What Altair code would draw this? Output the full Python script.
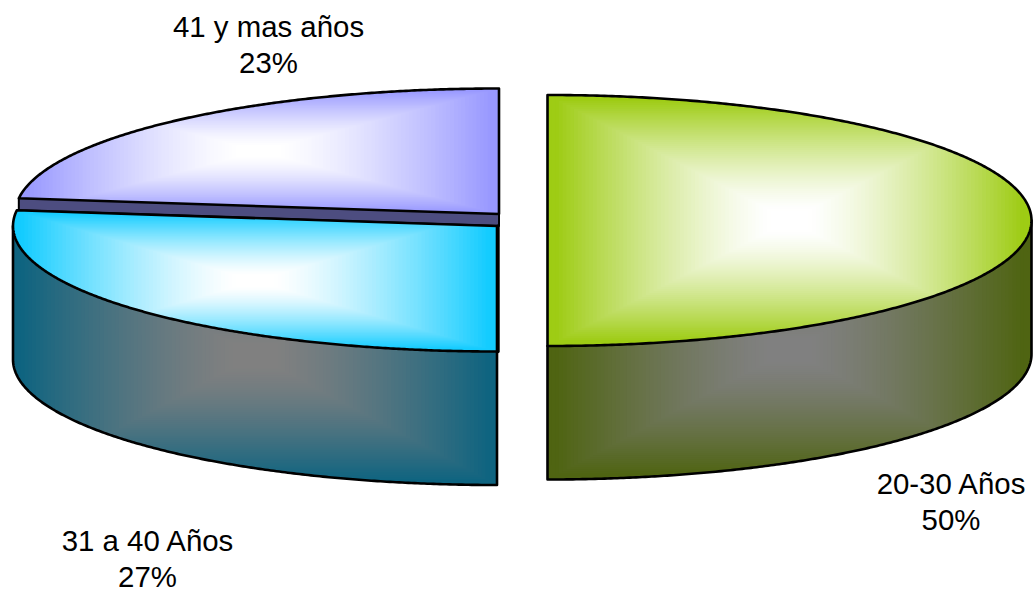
import math

import altair as alt
import numpy as np
import pandas as pd

alt.data_transformers.disable_max_rows()

# Age groups and their shares of the total
GROUPS = ["20-30 Años", "31 a 40 Años", "41 y mas años"]
SHARES = [50, 27, 23]

# Face colours and the darker colours of the walls
FACE_COLORS = ["#9ECC14", "#14CCFF", "#9999FF"]
WALL_COLORS = ["#4F6412", "#0F6480", "#4D4D80"]
FACE_CENTRE = "#FFFFFF"
WALL_CENTRE = "#808080"

# Layout of the exploded drum: centre of each slice's top face, in page pixels
CENTRES = [(547.5, 220.5), (497.0, 226.0), (499.0, 214.0)]
RX, RY = 484.0, 125.5
DEPTH = 133.5
LIP = 12.0
LEVELS = 64
PLATEAU, FULL, RAMP = 0.08, 0.97, 1.35

W, H = 1034, 591
XS = alt.Scale(domain=[0, W], range=[0, W], nice=False, zero=False)
YS = alt.Scale(domain=[0, H], range=[0, H], nice=False, zero=False)
X = alt.X("x:Q", scale=XS, axis=None)
Y = alt.Y("y:Q", scale=YS, axis=None)


def rgb(hex_colour):
    return np.array([int(hex_colour[i:i + 2], 16) for i in (1, 3, 5)], dtype=float)


def mix(a, b, t):
    # the centre colour eases out gradually before ramping to the edge colour
    w = min(1.0, max(0.0, (t - PLATEAU) / (FULL - PLATEAU))) ** RAMP
    c = rgb(a) * w + rgb(b) * (1 - w)
    return "#%02x%02x%02x" % tuple(int(round(v)) for v in c)


def arc_half(cx, x):
    u = np.clip((x - cx) / RX, -1, 1)
    return RY * np.sqrt(1 - u * u)


def graded(left, right, top, bottom, ymin, ymax, edge, centre):
    """Nested bands of a rectangular gradient, clipped to an x-monotone shape."""
    mx, my = (left + right) / 2, (ymin + ymax) / 2
    hw, hh = (right - left) / 2, (ymax - ymin) / 2
    frames = []
    gid = 0
    for k in range(LEVELS):
        t = 1 - k / LEVELS
        xl, xr = max(left, mx - t * hw), min(right, mx + t * hw)
        n = max(14, int(150 * t))
        xs = xl + (xr - xl) * (1 - np.cos(np.linspace(0, math.pi, n))) / 2
        lo = np.maximum(top(xs), my - t * hh)
        hi = np.minimum(bottom(xs), my + t * hh)
        keep = hi > lo
        colour = mix(edge, centre, t)
        # a band may split into separate runs where the clip shape bows through it
        runs = np.split(np.arange(n), np.where(np.diff(keep.astype(int)) != 0)[0] + 1)
        for run in runs:
            if len(run) > 1 and keep[run[0]]:
                frames.append(pd.DataFrame({
                    "x": xs[run].round(2), "y": lo[run].round(2), "y2": hi[run].round(2),
                    "c": colour, "g": gid,
                }))
                gid += 1
    return pd.concat(frames, ignore_index=True)


def bands_chart(df):
    return alt.Chart(df).mark_area(interpolate="linear", clip=False).encode(
        x=X, y=Y, y2=alt.Y2("y2:Q"),
        color=alt.Color("c:N", scale=None),
        detail="g:N",
    )


def outline_chart(xs, ys, width=2.6):
    df = pd.DataFrame({"x": np.round(xs, 2), "y": np.round(ys, 2), "i": range(len(xs))})
    return alt.Chart(df).mark_line(
        color="#000000", strokeWidth=width, strokeJoin="round", strokeCap="round"
    ).encode(x=X, y=Y, order=alt.Order("i:Q"))


layers = []
# angle swept by the lower-left slice past the horizontal, from its share
boundary = math.radians(SHARES[1] / 100 * 360 - 90)

# Upper-left slice: its cut wall first, then its top face
cx, cy = CENTRES[2]
end_x = cx - RX * math.cos(boundary)
end_y = cy - RY * math.sin(boundary)


def purple_cut(x):
    return end_y + (x - end_x) * (cy - end_y) / (cx - end_x)


xs = np.array([end_x, cx])
layers.append(alt.Chart(pd.DataFrame({
    "x": xs, "y": purple_cut(xs), "y2": purple_cut(xs) + LIP,
})).mark_area(color=WALL_COLORS[2]).encode(x=X, y=Y, y2=alt.Y2("y2:Q")))
layers.append(outline_chart([end_x, end_x, cx, cx], [end_y, end_y + LIP, cy + LIP, cy], 2.0))
layers.append(bands_chart(graded(
    end_x, cx,
    lambda x, c=cx, m=cy: m - arc_half(c, x),
    purple_cut,
    cy - RY, cy, FACE_COLORS[2], FACE_CENTRE,
)))
th = np.linspace(math.pi - boundary, math.pi / 2, 240)
layers.append(outline_chart(
    np.r_[cx, cx + RX * np.cos(th), cx, cx],
    np.r_[cy, cy - RY * np.sin(th), cy - RY, cy],
))

# Lower-left slice: wall and top face
cx, cy = CENTRES[1]
left, right = cx - RX, cx
end_x = cx - RX * math.cos(boundary)
end_y = cy - RY * math.sin(boundary)
layers.append(bands_chart(graded(
    left, right,
    lambda x, c=cx, m=cy: m + arc_half(c, x),
    lambda x, c=cx, m=cy: m + arc_half(c, x) + DEPTH,
    cy, cy + RY + DEPTH, WALL_COLORS[1], WALL_CENTRE,
)))
th = np.linspace(math.pi, 1.5 * math.pi, 240)
layers.append(outline_chart(
    np.r_[left, cx + RX * np.cos(th), cx, cx],
    np.r_[cy, cy + DEPTH - RY * np.sin(th), cy + RY, cy + RY + DEPTH],
))


def blue_top(x, c=cx, m=cy, ex=end_x, ey=end_y):
    cut = ey + (x - ex) * (m - ey) / (c - ex)
    rim = m - arc_half(c, x)
    return np.where(x < ex, rim, cut)


layers.append(bands_chart(graded(
    left, right,
    blue_top,
    lambda x, c=cx, m=cy: m + arc_half(c, x),
    end_y, cy + RY, FACE_COLORS[1], FACE_CENTRE,
)))
th = np.linspace(math.pi - boundary, 1.5 * math.pi, 300)
layers.append(outline_chart(
    np.r_[cx, cx + RX * np.cos(th), cx],
    np.r_[cy, cy - RY * np.sin(th), cy],
))
# the heavy right-hand edge where the lower-left face meets the gap
layers.append(outline_chart([cx + 1, cx + 1], [cy, cy + RY], 3.4))

# Right-hand slice: wall and top face
cx, cy = CENTRES[0]
left, right = cx, cx + RX
layers.append(bands_chart(graded(
    left, right,
    lambda x, c=cx, m=cy: m + arc_half(c, x),
    lambda x, c=cx, m=cy: m + arc_half(c, x) + DEPTH,
    cy, cy + RY + DEPTH, WALL_COLORS[0], WALL_CENTRE,
)))
th = np.linspace(-math.pi / 2, 0, 240)
layers.append(outline_chart(
    np.r_[cx, cx, cx + RX * np.cos(th), right],
    np.r_[cy + RY, cy + RY + DEPTH, cy + DEPTH - RY * np.sin(th), cy],
))
layers.append(bands_chart(graded(
    left, right,
    lambda x, c=cx, m=cy: m - arc_half(c, x),
    lambda x, c=cx, m=cy: m + arc_half(c, x),
    cy - RY, cy + RY, FACE_COLORS[0], FACE_CENTRE,
)))
th = np.linspace(-math.pi / 2, math.pi / 2, 400)
layers.append(outline_chart(
    np.r_[cx, cx + RX * np.cos(th), cx],
    np.r_[cy + RY, cy - RY * np.sin(th), cy + RY],
))

# Category name above its share, one text row each
LABEL_X = [951, 147.5, 268.5]
NAME_BASE = [494, 550.5, 37]
rows = []
for name, share, lx, base in zip(GROUPS, SHARES, LABEL_X, NAME_BASE):
    rows.append({"x": lx, "y": base, "t": name})
    rows.append({"x": lx, "y": base + 36, "t": f"{share}%"})
layers.append(alt.Chart(pd.DataFrame(rows)).mark_text(
    font="Liberation Sans", fontSize=29.4, color="#000000", align="center", baseline="alphabetic"
).encode(x=X, y=Y, text="t:N"))

chart = alt.layer(*layers).properties(
    width=W, height=H, padding=0, autosize=alt.AutoSizeParams(type="none"), background="#FFFFFF"
).configure_view(strokeWidth=0)

chart.save("out.html", embed_options={"renderer": "svg", "actions": False})
